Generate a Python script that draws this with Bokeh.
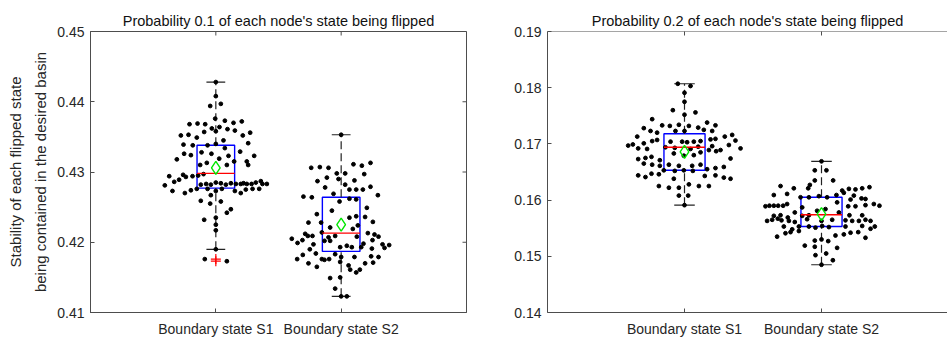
import math
from bokeh.plotting import figure
from bokeh.layouts import row
from bokeh.models import Range1d, FixedTicker, PrintfTickFormatter, ColumnDataSource, Span
from bokeh.embed import file_html
from bokeh.resources import INLINE

categories = ["Boundary state S1", "Boundary state S2"]
positions = [1, 2]
titles = ["Probability 0.1 of each node's state being flipped",
          "Probability 0.2 of each node's state being flipped"]
y_label = "Stability of each flipped state\nbeing contained in the desired basin"

p1_yticks = [0.41, 0.42, 0.43, 0.44, 0.45]
p2_yticks = [0.14, 0.15, 0.16, 0.17, 0.18, 0.19]

# ---- Panel 1 (probability 0.1) ----
p1_s1 = [0.4428, 0.4408, 0.4394, 0.4397, 0.4376, 0.4368, 0.4369, 0.4368, 0.4362, 0.4364,
         0.4373, 0.4370, 0.4372, 0.4361, 0.4352, 0.4353, 0.4349, 0.4357, 0.4358, 0.4345,
         0.4359, 0.4352, 0.4356, 0.4339, 0.4338, 0.4338, 0.4340, 0.4334, 0.4329, 0.4341,
         0.4326, 0.4324, 0.4328, 0.4326, 0.4319, 0.4323, 0.4323, 0.4318, 0.4310, 0.4313,
         0.4310, 0.4315, 0.4315, 0.4310, 0.4294, 0.4286, 0.4289, 0.4296, 0.4293, 0.4294,
         0.4295, 0.4297, 0.4281, 0.4273, 0.4270, 0.4274, 0.4276, 0.4282, 0.4283, 0.4282,
         0.4285, 0.4284, 0.4282, 0.4284, 0.4283, 0.4283, 0.4284, 0.4283, 0.4283, 0.4285,
         0.4287, 0.4283, 0.4283, 0.4275, 0.4276, 0.4276, 0.4270, 0.4273, 0.4276, 0.4273,
         0.4276, 0.4259, 0.4267, 0.4258, 0.4255, 0.4247, 0.4242, 0.4235, 0.4232, 0.4225,
         0.4217, 0.4190, 0.4176, 0.4173]
p1_s1_jitter = [0, 0, -0.045, 0.040, -0.005, -0.210, -0.146, -0.085, -0.032, 0.029,
                0.072, 0.141, 0.207, 0.093, -0.279, -0.218, -0.152, -0.093, 0, 0.061,
                0.152, 0.215, 0.274, -0.258, -0.184, -0.066, 0, 0.072, 0.194, 0.258,
                -0.253, -0.199, -0.114, -0.035, 0.027, 0.101, 0.306, -0.311, -0.125, -0.072,
                0.088, 0.146, 0.247, 0.258, -0.372, -0.332, -0.293, -0.261, -0.239, -0.186,
                -0.141, -0.098, -0.407, -0.346, -0.247, -0.199, -0.152, -0.120, -0.077, -0.040,
                0, 0.040, 0.080, 0.120, 0.160, 0.199, 0.221, 0.247, 0.285, 0.319,
                0.359, 0.372, 0.407, 0.239, 0.293, 0.346, 0.199, 0.152, -0.066, 0,
                0.048, -0.120, -0.040, 0.040, -0.045, 0.120, 0.088, 0, -0.093, 0,
                0, 0, -0.088, 0.088]
p1_s2 = [0.4353, 0.4306, 0.4307, 0.4306, 0.4311, 0.4309, 0.4313, 0.4298, 0.4298, 0.4297,
         0.4287, 0.4292, 0.4290, 0.4288, 0.4278, 0.4282, 0.4275, 0.4275, 0.4275, 0.4279,
         0.4269, 0.4265, 0.4264, 0.4262, 0.4261, 0.4267, 0.4258, 0.4245, 0.4235, 0.4237,
         0.4236, 0.4249, 0.4240, 0.4228, 0.4228, 0.4221, 0.4219, 0.4224, 0.4229, 0.4212,
         0.4209, 0.4209, 0.4214, 0.4207, 0.4209, 0.4208, 0.4213, 0.4211, 0.4208, 0.4205,
         0.4199, 0.4203, 0.4197, 0.4202, 0.4202, 0.4193, 0.4195, 0.4193, 0.4198, 0.4203,
         0.4197, 0.4196, 0.4192, 0.4190, 0.4193, 0.4191, 0.4176, 0.4182, 0.4170, 0.4184,
         0.4176, 0.4176, 0.4183, 0.4179, 0.4179, 0.4180, 0.4179, 0.4165, 0.4175, 0.4172,
         0.4167, 0.4157, 0.4161, 0.4170, 0.4171, 0.4149, 0.4150, 0.4161, 0.4134, 0.4123,
         0.4123]
p1_s2_jitter = [0, -0.239, -0.170, -0.101, 0.098, 0.165, 0.234, -0.035, 0.032, 0.184,
                -0.189, -0.114, -0.021, 0.106, -0.128, 0.032, 0.066, 0.120, 0.173, 0.234,
                -0.061, -0.301, -0.234, 0.066, 0.120, 0.293, -0.013, -0.074, 0.066, 0.120,
                0.191, 0.205, -0.194, -0.261, -0.160, -0.088, 0.093, 0.133, 0.253, -0.287,
                -0.266, -0.229, -0.154, -0.101, -0.048, 0.125, 0.213, 0.266, 0.298, -0.394,
                -0.348, -0.309, -0.221, -0.133, -0.088, -0.008, 0.045, 0.085, 0.178, 0.250,
                0.330, 0.383, 0.346, -0.250, 0.160, 0.245, -0.351, -0.306, -0.261, -0.202,
                -0.154, -0.096, -0.048, 0, 0.106, 0.239, 0.298, -0.194, -0.133, -0.008,
                0.059, 0.120, 0.149, 0.191, 0.255, -0.088, -0.008, 0.072, -0.048, 0,
                0.045]
p1_q1 = [0.4277, 0.4187]
p1_median = [0.4298, 0.4213]
p1_q3 = [0.4338, 0.4264]
p1_mean = [0.4306, 0.4225]
p1_whisk_lo = [0.4190, 0.4123]
p1_whisk_hi = [0.4428, 0.4353]

# ---- Panel 2 (probability 0.2) ----
p2_s1 = [0.1807, 0.1803, 0.1791, 0.1775, 0.1760, 0.1752, 0.1756, 0.1744, 0.1733, 0.1732,
         0.1734, 0.1732, 0.1729, 0.1738, 0.1733, 0.1728, 0.1723, 0.1720, 0.1723, 0.1723,
         0.1725, 0.1723, 0.1713, 0.1701, 0.1705, 0.1707, 0.1704, 0.1704, 0.1703, 0.1704,
         0.1705, 0.1708, 0.1709, 0.1713, 0.1716, 0.1706, 0.1697, 0.1699, 0.1692, 0.1691,
         0.1694, 0.1693, 0.1691, 0.1695, 0.1696, 0.1689, 0.1698, 0.1692, 0.1673, 0.1675,
         0.1677, 0.1671, 0.1683, 0.1679, 0.1680, 0.1685, 0.1689, 0.1687, 0.1674, 0.1665,
         0.1663, 0.1661, 0.1663, 0.1661, 0.1661, 0.1663, 0.1655, 0.1657, 0.1659, 0.1644,
         0.1641, 0.1647, 0.1646, 0.1653, 0.1652, 0.1653, 0.1652, 0.1643, 0.1644, 0.1640,
         0.1638, 0.1625, 0.1622, 0.1638, 0.1622, 0.1628, 0.1625, 0.1625, 0.1608, 0.1608,
         0.1591]
p2_s1_jitter = [-0.049, 0.044, 0, 0, -0.085, 0, 0.080, -0.236, -0.163, -0.107,
                -0.041, 0.032, 0.100, 0.165, 0.226, -0.297, -0.248, -0.200, -0.066, 0,
                0.141, 0.202, -0.345, -0.297, -0.236, -0.200, -0.102, -0.017, 0.019, 0.068,
                0.117, 0.190, 0.226, 0.294, 0.348, 0.372, -0.411, -0.377, -0.338, -0.273,
                -0.139, -0.071, 0.044, 0.100, 0.202, 0.263, 0.324, 0.409, -0.338, -0.285,
                -0.241, -0.180, -0.078, -0.005, 0.068, 0.117, 0.178, 0.231, 0.336, -0.297,
                -0.236, -0.180, -0.114, -0.041, 0.056, 0.117, 0.165, 0.226, 0.287, -0.338,
                -0.285, -0.241, -0.187, -0.151, -0.071, -0.005, 0.061, 0.148, 0.226, 0.287,
                0.336, -0.187, -0.114, -0.078, -0.041, 0.032, 0.105, 0.178, -0.041, 0.027,
                0]
p2_s2 = [0.1669, 0.1653, 0.1653, 0.1635, 0.1635, 0.1625, 0.1621, 0.1621, 0.1627, 0.1617,
         0.1620, 0.1619, 0.1621, 0.1623, 0.1609, 0.1611, 0.1605, 0.1605, 0.1607, 0.1605,
         0.1609, 0.1613, 0.1608, 0.1603, 0.1602, 0.1601, 0.1589, 0.1590, 0.1590, 0.1590,
         0.1590, 0.1593, 0.1587, 0.1596, 0.1589, 0.1589, 0.1591, 0.1593, 0.1590, 0.1572,
         0.1573, 0.1569, 0.1578, 0.1572, 0.1573, 0.1581, 0.1584, 0.1578, 0.1573, 0.1573,
         0.1563, 0.1565, 0.1567, 0.1564, 0.1563, 0.1561, 0.1566, 0.1563, 0.1565, 0.1564,
         0.1563, 0.1563, 0.1565, 0.1563, 0.1553, 0.1548, 0.1553, 0.1553, 0.1551, 0.1554,
         0.1552, 0.1553, 0.1554, 0.1549, 0.1553, 0.1535, 0.1541, 0.1543, 0.1545, 0.1537,
         0.1539, 0.1542, 0.1543, 0.1533, 0.1519, 0.1528, 0.1530, 0.1527, 0.1517, 0.1515,
         0.1505, 0.1502, 0.1493, 0.1485]
p2_s2_jitter = [0, -0.049, 0.036, -0.049, 0.085, -0.299, -0.202, -0.097, -0.085, 0.151,
                0.200, 0.248, 0.297, 0.350, -0.348, -0.251, -0.153, -0.092, -0.019, 0.041,
                0.109, 0.163, 0.236, 0.292, 0.321, 0.212, -0.409, -0.380, -0.348, -0.316,
                -0.280, -0.251, -0.141, 0.114, 0.195, 0.248, 0.321, 0.382, 0.423, -0.348,
                -0.299, -0.246, -0.195, -0.141, -0.092, -0.032, 0.029, 0.127, 0.204, 0.297,
                -0.397, -0.360, -0.319, -0.292, -0.238, -0.195, -0.105, 0, 0.078, 0.175,
                0.224, 0.273, 0.321, 0.358, -0.275, -0.214, -0.165, -0.092, -0.044, 0.005,
                0.054, 0.175, 0.297, 0.358, 0.389, -0.324, -0.263, -0.226, -0.165, 0.102,
                0.163, 0.212, 0.268, 0.321, -0.122, -0.049, 0, 0.049, -0.049, 0.114,
                0.034, -0.044, 0.083, 0]
p2_q1 = [0.1653, 0.1553]
p2_median = [0.1694, 0.1574]
p2_q3 = [0.1718, 0.1605]
p2_mean = [0.1686, 0.1575]
p2_whisk_lo = [0.1591, 0.1485]
p2_whisk_hi = [0.1807, 0.1669]

FONT = "Liberation Sans"
AX_COLOR = "#4d4d4d"
TXT_COLOR = "#262626"
BOX_HALF = 0.15
CAP_HALF = 0.075


def style_axis(ax, ticks, overrides=None, standoff=6):
    ax.ticker = FixedTicker(ticks=ticks)
    ax.axis_line_color = AX_COLOR
    ax.axis_line_width = 1
    ax.major_tick_line_color = AX_COLOR
    ax.major_tick_in = 4
    ax.major_tick_out = 0
    ax.minor_tick_line_color = None
    ax.major_label_standoff = standoff
    ax.major_label_text_font = FONT
    ax.major_label_text_color = TXT_COLOR
    ax.major_label_text_font_size = "14px"
    if overrides:
        ax.major_label_overrides = overrides


def make_panel(title, groups, jitters, q1, med, q3, mean, wlo, whi, yr, yticks,
               width, border_left, border_right, x_end, ylabel=None, right_frame=True,
               title_offset=0):
    p = figure(width=width, height=340, x_range=Range1d(0, x_end), y_range=Range1d(*yr),
               output_backend="svg", toolbar_location=None, title=title,
               min_border_left=border_left, min_border_right=border_right,
               min_border_top=31, min_border_bottom=28)
    p.background_fill_color = "white"
    p.border_fill_color = "white"
    p.xgrid.visible = False
    p.ygrid.visible = False
    p.title.text_font = FONT
    p.title.text_font_size = "14.5px"
    p.title.text_font_style = "normal"
    p.title.text_color = "#111111"
    p.title.align = "center"
    p.title.standoff = 6
    p.title.offset = title_offset

    xa = p.xaxis[0]
    style_axis(xa, positions, overrides={1: categories[0], 2: categories[1]}, standoff=8)
    ya = p.yaxis[0]
    style_axis(ya, yticks, standoff=6)
    ya.formatter = PrintfTickFormatter(format="%.2f")
    if ylabel:
        ya.axis_label = ylabel
        ya.axis_label_text_font = FONT
        ya.axis_label_text_font_size = "15px"
        ya.axis_label_text_font_style = "normal"
        ya.axis_label_text_color = TXT_COLOR
        ya.axis_label_text_line_height = 1.5
        ya.axis_label_standoff = 5

    # inward tick marks on the top edge
    p.scatter(positions, [yr[1]] * len(positions), marker="dash", size=8,
              angle=math.pi / 2, line_color=AX_COLOR, line_width=1)
    if right_frame:
        p.outline_line_color = AX_COLOR
        p.outline_line_width = 1
        p.scatter([x_end] * len(yticks), yticks, marker="dash", size=8,
                  line_color=AX_COLOR, line_width=1)
    else:
        p.outline_line_color = None
        p.add_layout(Span(location=yr[1], dimension="width", line_color=AX_COLOR,
                          line_width=1))

    # boxes
    p.quad(left=[x - BOX_HALF for x in positions], right=[x + BOX_HALF for x in positions],
           bottom=q1, top=q3, fill_color=None, line_color="#0000ff", line_width=1.4)
    # whiskers
    p.segment(x0=positions, x1=positions, y0=q3, y1=whi, line_color="#222222",
              line_width=1.2, line_dash="8 4")
    p.segment(x0=positions, x1=positions, y0=wlo, y1=q1, line_color="#222222",
              line_width=1.2, line_dash="8 4")
    # caps
    p.segment(x0=[x - CAP_HALF for x in positions], x1=[x + CAP_HALF for x in positions],
              y0=whi, y1=whi, line_color="#222222", line_width=1.2)
    p.segment(x0=[x - CAP_HALF for x in positions], x1=[x + CAP_HALF for x in positions],
              y0=wlo, y1=wlo, line_color="#222222", line_width=1.2)
    # points
    for pos, vals, jit, lo, hi in zip(positions, groups, jitters, wlo, whi):
        src = ColumnDataSource(dict(x=[pos + j for j in jit], y=vals))
        p.scatter("x", "y", source=src, size=3.8, color="#000000")
        outl = [v for v in vals if v < lo or v > hi]
        if outl:
            p.scatter([pos] * len(outl), outl, marker="cross", size=10,
                      line_color="#ff0000", line_width=1.2)
    # medians
    p.segment(x0=[x - BOX_HALF for x in positions], x1=[x + BOX_HALF for x in positions],
              y0=med, y1=med, line_color="#ff0000", line_width=1.4)
    # means
    p.scatter(positions, mean, marker="diamond", size=13, fill_color=None,
              line_color="#00e600", line_width=1.4)
    return p


p1 = make_panel(titles[0], [p1_s1, p1_s2], [p1_s1_jitter, p1_s2_jitter],
                p1_q1, p1_median, p1_q3, p1_mean, p1_whisk_lo, p1_whisk_hi,
                (0.41, 0.45), p1_yticks, 500, 90, 34, 3, ylabel=y_label)
p2 = make_panel(titles[1], [p2_s1, p2_s2], [p2_s1_jitter, p2_s2_jitter],
                p2_q1, p2_median, p2_q3, p2_mean, p2_whisk_lo, p2_whisk_hi,
                (0.14, 0.19), p2_yticks, 447, 47, 0, 400 / 137, right_frame=False,
                title_offset=5)

layout = row(p1, p2)
open("out.html", "w").write(file_html(layout, INLINE))
